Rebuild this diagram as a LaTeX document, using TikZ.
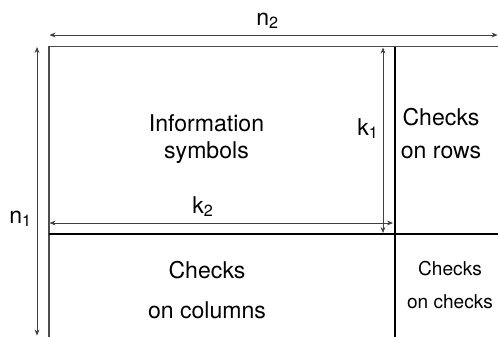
\documentclass[tikz,border=0pt]{standalone}
\usepackage{fontspec}
\setmainfont{TeX Gyre Heros}
\usetikzlibrary{arrows.meta}

\begin{document}
\begin{tikzpicture}[x=0.75pt, y=-0.75pt,
	nodes={inner sep=0pt, anchor=base},
	big/.style={font=\fontsize{17.3}{20}\selectfont},
	small/.style={font=\fontsize{14.3}{17}\selectfont},
	dim/.style={draw=black!75, line width=0.6pt, {Stealth[length=4.5pt,width=3.6pt]}-{Stealth[length=4.5pt,width=3.6pt]}},
	edge/.style={draw=black!70, line width=0.8pt},
	split/.style={draw=black, line width=0.9pt}]
	\useasboundingbox (0,0) rectangle (498,336);
	\clip (0,0) rectangle (498,336);
	
	% corners of the code array
	\coordinate (tl) at (49,46.5);
	\coordinate (br) at (510,350);
	\coordinate (vtop) at (395,46.5);
	\coordinate (vbot) at (395,350);
	\coordinate (hleft) at (49,234);
	\coordinate (hright) at (510,234);
	
	\draw[edge] (tl) rectangle (br);
	\draw[split] (vtop) -- (vbot);
	\draw[split] (hleft) -- (hright);
	
	% dimension arrows
	\coordinate (n2a) at (49.5,35);   \coordinate (n2b) at (497.6,35);
	\coordinate (n1a) at (37,47);     \coordinate (n1b) at (37,335.6);
	\coordinate (k1a) at (383,47.5);  \coordinate (k1b) at (383,233);
	\coordinate (k2a) at (49.5,223);  \coordinate (k2b) at (393,223);
	\draw[dim] (n2a) -- (n2b);
	\draw[dim] (n1a) -- (n1b);
	\draw[dim] (k1a) -- (k1b);
	\draw[dim] (k2a) -- (k2b);
	
	\node[big, anchor=base west] (n2) at (256,25) {n\textsubscript{2}};
	\node[big, anchor=base west] (n1) at (9,223) {n\textsubscript{1}};
	\node[big, anchor=base west] (k1) at (357,135) {k\textsubscript{1}};
	\node[big, anchor=base west] (k2) at (192,213) {k\textsubscript{2}};
	
	% block texts
	\node[big] (info) at (206.5,131) {Information};
	\node[big] (symb) at (206.5,158) {symbols};
	\node[big] (rows1) at (441,125) {Checks};
	\node[big] (rows2) at (441,158) {on rows};
	\node[big] (cols1) at (207,278) {Checks};
	\node[big] (cols2) at (207,318) {on columns};
	\node[small] (cc1) at (450,275) {Checks};
	\node[small] (cc2) at (450,308) {on checks};
\end{tikzpicture}
\end{document}
